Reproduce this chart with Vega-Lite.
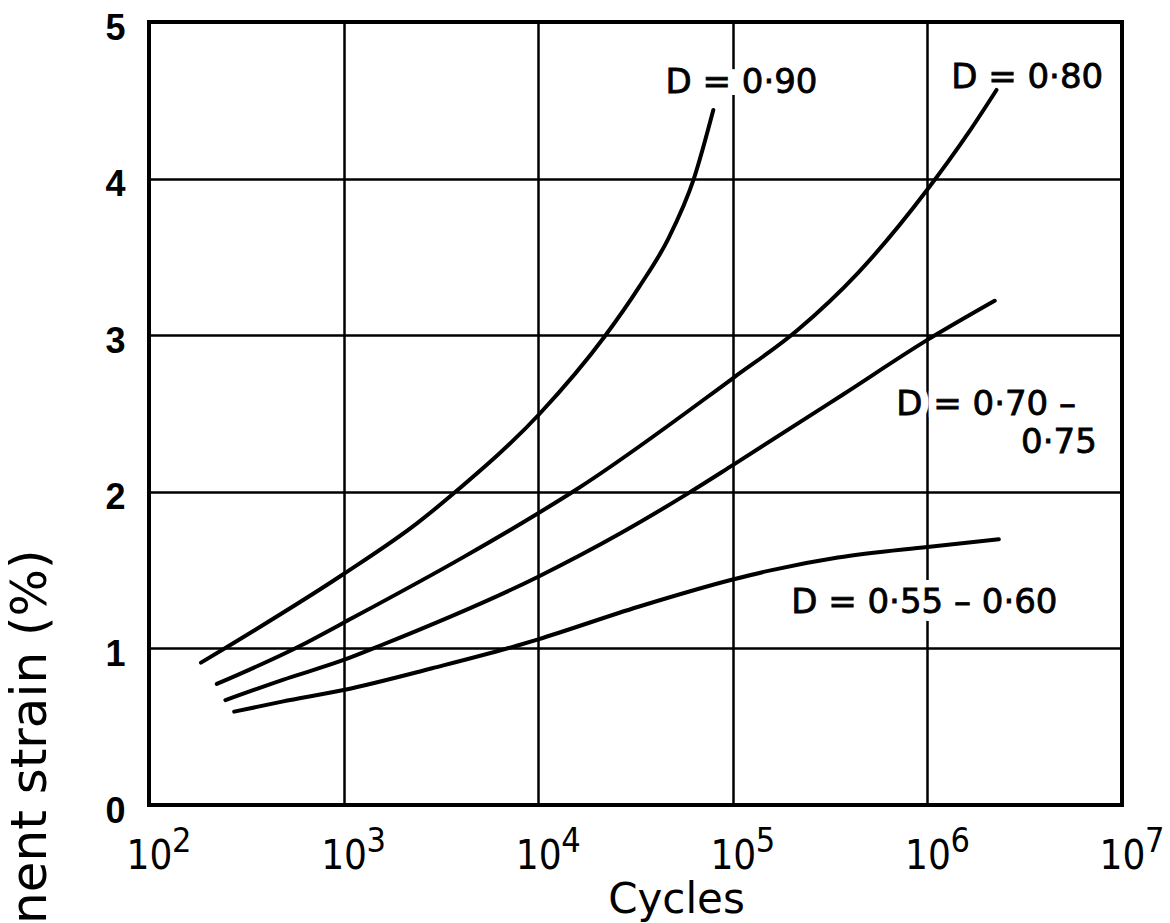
{
  "$schema": "https://vega.github.io/schema/vega-lite/v6.json",
  "width": 973,
  "height": 783,
  "autosize": {"type": "none"},
  "padding": {"left": 149, "top": 22, "right": 48, "bottom": 118},
  "background": "white",
  "config": {
    "view": {"stroke": "black", "strokeWidth": 4},
    "font": "DejaVu Sans"
  },
  "datasets": {
    "curves": [
      {"series": "D = 0.90", "N": 185, "strain": 0.909},
      {"series": "D = 0.90", "N": 258, "strain": 1.017},
      {"series": "D = 0.90", "N": 1000, "strain": 1.475},
      {"series": "D = 0.90", "N": 2390, "strain": 1.80},
      {"series": "D = 0.90", "N": 3760, "strain": 2.0},
      {"series": "D = 0.90", "N": 10200, "strain": 2.50},
      {"series": "D = 0.90", "N": 21900, "strain": 2.99},
      {"series": "D = 0.90", "N": 33100, "strain": 3.31},
      {"series": "D = 0.90", "N": 46800, "strain": 3.62},
      {"series": "D = 0.90", "N": 63100, "strain": 4.0},
      {"series": "D = 0.90", "N": 79400, "strain": 4.438},
      {"series": "D = 0.80", "N": 223, "strain": 0.773},
      {"series": "D = 0.80", "N": 600, "strain": 1.017},
      {"series": "D = 0.80", "N": 1000, "strain": 1.164},
      {"series": "D = 0.80", "N": 4170, "strain": 1.586},
      {"series": "D = 0.80", "N": 10000, "strain": 1.863},
      {"series": "D = 0.80", "N": 15500, "strain": 2.01},
      {"series": "D = 0.80", "N": 100000, "strain": 2.725},
      {"series": "D = 0.80", "N": 213800, "strain": 3.03},
      {"series": "D = 0.80", "N": 441600, "strain": 3.40},
      {"series": "D = 0.80", "N": 1000000, "strain": 3.93},
      {"series": "D = 0.80", "N": 1620000, "strain": 4.29},
      {"series": "D = 0.80", "N": 2265000, "strain": 4.566},
      {"series": "D = 0.70-0.75", "N": 247, "strain": 0.67},
      {"series": "D = 0.70-0.75", "N": 483, "strain": 0.798},
      {"series": "D = 0.70-0.75", "N": 1000, "strain": 0.926},
      {"series": "D = 0.70-0.75", "N": 1535, "strain": 1.017},
      {"series": "D = 0.70-0.75", "N": 10000, "strain": 1.458},
      {"series": "D = 0.70-0.75", "N": 26900, "strain": 1.74},
      {"series": "D = 0.70-0.75", "N": 58880, "strain": 1.99},
      {"series": "D = 0.70-0.75", "N": 100000, "strain": 2.17},
      {"series": "D = 0.70-0.75", "N": 367000, "strain": 2.62},
      {"series": "D = 0.70-0.75", "N": 1000000, "strain": 2.97},
      {"series": "D = 0.70-0.75", "N": 2218000, "strain": 3.22},
      {"series": "D = 0.55-0.60", "N": 274, "strain": 0.596},
      {"series": "D = 0.55-0.60", "N": 483, "strain": 0.66},
      {"series": "D = 0.55-0.60", "N": 1000, "strain": 0.734},
      {"series": "D = 0.55-0.60", "N": 2851, "strain": 0.873},
      {"series": "D = 0.55-0.60", "N": 7762, "strain": 1.017},
      {"series": "D = 0.55-0.60", "N": 10000, "strain": 1.058},
      {"series": "D = 0.55-0.60", "N": 32730, "strain": 1.266},
      {"series": "D = 0.55-0.60", "N": 100000, "strain": 1.44},
      {"series": "D = 0.55-0.60", "N": 158500, "strain": 1.50},
      {"series": "D = 0.55-0.60", "N": 346700, "strain": 1.58},
      {"series": "D = 0.55-0.60", "N": 1000000, "strain": 1.648},
      {"series": "D = 0.55-0.60", "N": 2328000, "strain": 1.697}
    ],
    "labels": [
      {"N": 45100, "strain": 4.547, "label": "D = 0·90"},
      {"N": 1325000, "strain": 4.579, "label": "D = 0·80"},
      {"N": 691800, "strain": 2.49, "label": "D = 0·70 –"},
      {"N": 3030000, "strain": 2.248, "label": "0·75"},
      {"N": 199500, "strain": 1.226, "label": "D = 0·55 – 0·60"}
    ],
    "exponents": [
      {"N": 100, "e": "2"},
      {"N": 1000, "e": "3"},
      {"N": 10000, "e": "4"},
      {"N": 100000, "e": "5"},
      {"N": 1000000, "e": "6"},
      {"N": 10000000, "e": "7"}
    ]
  },
  "layer": [
    {
      "data": {"name": "labels"},
      "mark": {"type": "text", "align": "left", "baseline": "alphabetic", "fontSize": 34, "font": "DejaVu Sans", "fill": "white", "stroke": "white", "strokeWidth": 16},
      "encoding": {
        "x": {"field": "N", "type": "quantitative"},
        "y": {"field": "strain", "type": "quantitative"},
        "text": {"field": "label"}
      }
    },
    {
      "data": {"name": "curves"},
      "mark": {"type": "line", "color": "black", "strokeWidth": 4, "interpolate": "monotone", "strokeCap": "round"},
      "encoding": {
        "x": {
          "field": "N",
          "type": "quantitative",
          "scale": {"type": "log", "domain": [100, 10000000], "nice": false},
          "axis": {
            "values": [100, 1000, 10000, 100000, 1000000, 10000000],
            "labelExpr": "'10'",
            "grid": true,
            "gridColor": "black",
            "gridWidth": 2.5,
            "gridOpacity": 1,
            "ticks": false,
            "domain": false,
            "labelFont": "DejaVu Sans Condensed, DejaVu Sans",
            "labelFontSize": 40,
            "labelColor": "black",
            "labelPadding": 31,
            "labelAlign": "center",
            "labelFlush": false,
            "labelOverlap": false,
            "labelBound": false,
            "title": "Cycles",
            "titleFont": "DejaVu Sans",
            "titleFontSize": 42,
            "titleFontWeight": "normal",
            "titleColor": "black",
            "titleX": 527,
            "titleY": 107,
            "titleAlign": "center",
            "titleBaseline": "alphabetic"
          }
        },
        "y": {
          "field": "strain",
          "type": "quantitative",
          "scale": {"domain": [0, 5], "nice": false, "zero": false},
          "axis": {
            "values": [0, 1, 2, 3, 4, 5],
            "format": "d",
            "grid": true,
            "gridColor": "black",
            "gridWidth": 2.5,
            "gridOpacity": 1,
            "ticks": false,
            "domain": false,
            "labelFont": "Liberation Sans",
            "labelFontSize": 36,
            "labelFontWeight": "bold",
            "labelColor": "black",
            "labelPadding": 24,
            "labelBaseline": "middle",
            "labelOffset": 6,
            "labelFlush": false,
            "labelOverlap": false,
            "labelBound": false,
            "title": "Permanent strain (%)",
            "titleFont": "DejaVu Sans",
            "titleFontSize": 50,
            "titleFontWeight": "normal",
            "titleColor": "black",
            "titleAngle": -90,
            "titleX": -104,
            "titleY": 527,
            "titleAlign": "right",
            "titleBaseline": "alphabetic"
          }
        },
        "detail": {"field": "series"}
      }
    },
    {
      "data": {"name": "labels"},
      "mark": {"type": "text", "align": "left", "baseline": "alphabetic", "fontSize": 34, "font": "DejaVu Sans", "fill": "black", "stroke": "black", "strokeWidth": 0.8},
      "encoding": {
        "x": {"field": "N", "type": "quantitative"},
        "y": {"field": "strain", "type": "quantitative"},
        "text": {"field": "label"}
      }
    },
    {
      "data": {"name": "exponents"},
      "mark": {"type": "text", "align": "left", "baseline": "alphabetic", "fontSize": 34, "font": "DejaVu Sans Condensed, DejaVu Sans", "fill": "black", "dx": 23, "clip": false},
      "encoding": {
        "x": {"field": "N", "type": "quantitative"},
        "y": {"datum": -0.3},
        "text": {"field": "e", "type": "nominal"}
      }
    }
  ]
}
